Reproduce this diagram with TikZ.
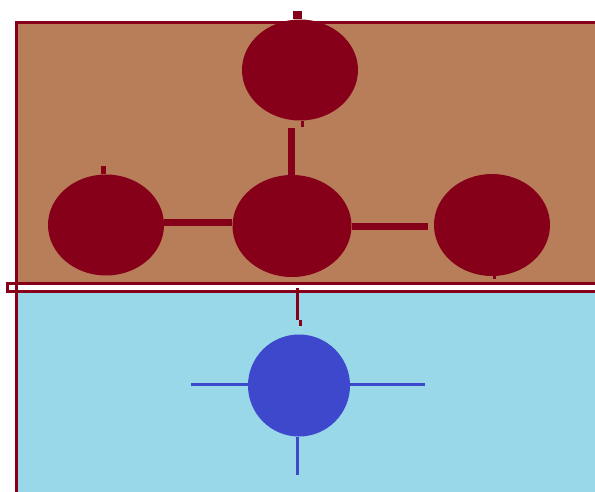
\documentclass[tikz,border=0pt]{standalone}
\usetikzlibrary{shapes.geometric}
\definecolor{brownbg}{RGB}{184,126,90}
\definecolor{darkred}{RGB}{135,0,26}
\definecolor{lightblue}{RGB}{152,216,232}
\definecolor{bluedot}{RGB}{61,72,204}
\tikzset{
  redblob/.style={ellipse, fill=darkred, draw=none, inner sep=0pt},
  bluedotnode/.style={circle, fill=bluedot, draw=none, inner sep=0pt, minimum size=102pt},
  redlink/.style={draw=darkred, line width=7pt},
  redtick/.style={draw=darkred, line width=9pt},
  bluelink/.style={draw=bluedot, line width=3pt},
  frame/.style={draw=darkred, line width=3pt}
}
\begin{document}
\begin{tikzpicture}[x=1pt,y=-1pt]
\useasboundingbox (0,0) rectangle (595,492);
% panels
\fill[brownbg] (16,23) rectangle (600,283);
\fill[lightblue] (16,292) rectangle (600,495);
\fill[white] (7,284) rectangle (600,291);
\draw[frame] (600,23) -- (16,23) -- (16,495);
\draw[frame] (600,283.5) -- (7,283.5) -- (7,291.5) -- (600,291.5);
% red nodes
\node[redblob, minimum width=116pt, minimum height=101pt] (top) at (300,70) {};
\node[redblob, minimum width=116pt, minimum height=101pt] (left) at (106,225) {};
\node[redblob, minimum width=119pt, minimum height=102pt] (mid) at (292,226) {};
\node[redblob, minimum width=116pt, minimum height=102pt] (right) at (492,225) {};
% ticks
\coordinate (toptick) at (297.5,11);
\draw[redtick] (toptick) -- (toptick |- top.north);
\coordinate (lefttick) at (103.5,166);
\draw[draw=darkred, line width=5pt] (lefttick) -- (lefttick |- left.north);
\draw[draw=darkred, line width=3pt] (top.south) ++(2,0) -- ++(0,6);
\draw[draw=darkred, line width=3pt] (right.south) ++(2,0) -- ++(0,3);
% links
\coordinate (vtop) at (291,128);
\draw[redlink] (vtop) -- (vtop |- mid.north);
\draw[redlink] (left.east |- 0,223) -- (mid.west |- 0,223);
\coordinate (rend) at (428,227);
\draw[redlink] (mid.east |- rend) -- (rend);
\coordinate (downend) at (297.5,320);
\draw[draw=darkred, line width=3pt] (297.5,288) -- (downend);
\draw[draw=darkred, line width=3pt] (300.5,320) -- (300.5,326);
% blue node
\node[bluedotnode] (blue) at (299,385.5) {};
\coordinate (bl) at (191,384);
\coordinate (br) at (425,384);
\coordinate (bb) at (297,475);
\draw[bluelink] (bl) -- (blue.west |- bl);
\draw[bluelink] (blue.east |- br) -- (br);
\draw[bluelink] (blue.south -| bb) -- (bb);
\end{tikzpicture}
\end{document}
